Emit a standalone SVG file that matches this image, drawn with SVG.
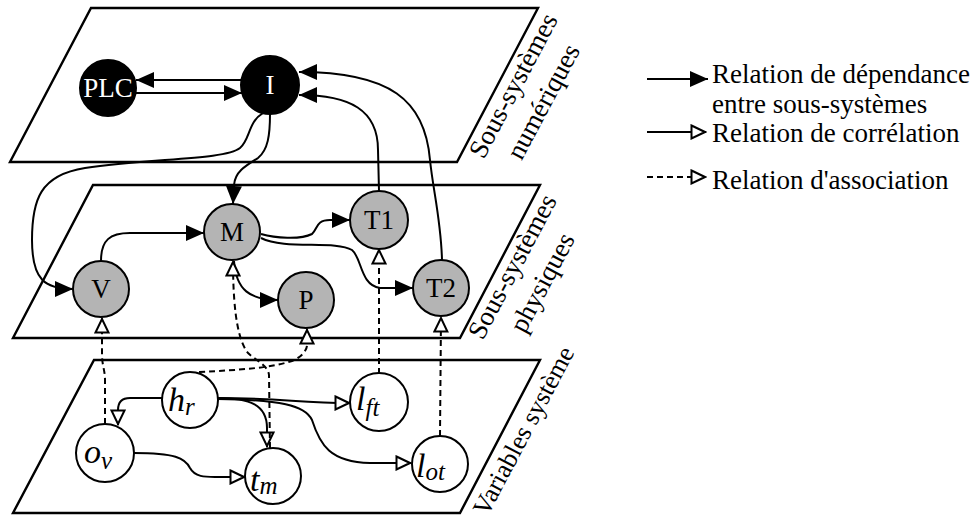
<svg xmlns="http://www.w3.org/2000/svg" width="979" height="523" viewBox="0 0 979 523">
<style>
.plane{fill:none;stroke:#000;stroke-width:2.4;stroke-linejoin:miter}
.dep{fill:none;stroke:#000;stroke-width:2;marker-end:url(#fh)}
.cor{fill:none;stroke:#000;stroke-width:2;marker-end:url(#hh)}
.asc{fill:none;stroke:#000;stroke-width:2;stroke-dasharray:6 4;marker-end:url(#hh)}
.dn{fill:#000;stroke:#000;stroke-width:2}
.pn{fill:#b4b4b4;stroke:#000;stroke-width:2}
.vn{fill:#fff;stroke:#000;stroke-width:2}
.lab{font-family:"Liberation Serif","Times New Roman",serif;font-size:27px;text-anchor:middle}
.wl{fill:#fff}
.math{font-family:"Liberation Serif","Times New Roman",serif;font-style:italic;font-size:34px}
.sub{font-size:25px}
.leg{font-family:"Liberation Serif","Times New Roman",serif;font-size:27px}
</style>
<defs>
<marker id="fh" viewBox="0 0 18 16" refX="18" refY="8" markerWidth="18" markerHeight="16" markerUnits="userSpaceOnUse" orient="auto">
<path d="M0,0 L18,8 L0,16 z" fill="#000"/>
</marker>
<marker id="hh" viewBox="0 0 17 16" refX="16" refY="8" markerWidth="17" markerHeight="16" markerUnits="userSpaceOnUse" orient="auto">
<path d="M1.5,1.5 L15,8 L1.5,14.5 z" fill="#fff" stroke="#000" stroke-width="2"/>
</marker>
</defs>
<rect width="979" height="523" fill="#fff"/>

<g id="planes">
<polygon class="plane" points="91,8 538,8 457,162 10,162"/>
<polygon class="plane" points="93,185 540,185 460,338 13,338"/>
<polygon class="plane" points="94,360 540,360 460,513 13,513"/>
<g class="lab" transform="translate(514,86) rotate(-62)">
<text x="0" y="8">Sous-systèmes</text>
<text x="0" y="42">numériques</text>
</g>
<g class="lab" transform="translate(513,267) rotate(-62)">
<text x="0" y="8">Sous-systèmes</text>
<text x="0" y="42">physiques</text>
</g>
<g class="lab" transform="translate(524,431) rotate(-62)" style="font-size:26px">
<text x="0" y="8">Variables système</text>
</g>
</g>

<g id="connectors">
<path class="dep" d="M242,80 L136,80"/>
<path class="dep" d="M136,93 L242,93"/>
<path class="dep" d="M263,113 C248,122 250,140 240,148 C225,160 150,158 85,168 C40,175 32,200 32,240 C32,280 45,289 73,289"/>
<path class="dep" d="M270,114 C270,135 268,150 258,158 C245,166 235,172 234,185 L233,204"/>
<path class="dep" d="M101,261 C101,240 110,233 130,233 L204,233"/>
<path class="dep" d="M261,234 C275,238 300,240 312,234 C318,228 316,220 330,220 L350,220"/>
<path class="dep" d="M261,238 C285,250 335,240 352,250 C362,258 360,285 380,288 L413,288"/>
<path class="dep" d="M234,261 C236,290 250,300 278,300"/>
<path class="dep" d="M379,191 L378,150 C378,110 350,95 299,95"/>
<path class="dep" d="M442,260 C441,220 433,190 430,160 C425,100 390,72 299,72"/>

<path class="cor" d="M162,398 L130,398 C122,398 118,402 118,410 L118,425"/>
<path class="cor" d="M218,398 C250,398 267,405 267,428 L267,447"/>
<path class="cor" d="M218,398 C280,398 300,403 350,403"/>
<path class="cor" d="M218,399 C280,400 305,405 312,420 C320,445 330,462 370,463 L411,463"/>
<path class="cor" d="M134,453 C175,453 185,458 190,468 C195,477 205,477 215,477 L245,477"/>

<path class="asc" d="M105,424 L105,380 C105,370 102,365 102,355 L102,318"/>
<path class="asc" d="M270,448 L269,375 C268,365 255,360 248,353 C240,343 233,320 233,261"/>
<path class="asc" d="M199,372 C240,370 270,368 292,361 C302,357 307,350 307,345 L307,329"/>
<path class="asc" d="M379,374 L379,249"/>
<path class="asc" d="M440,436 L441,317"/>
</g>

<g id="PLC"><circle class="dn" cx="108" cy="88" r="28"/><text class="lab wl" x="108" y="97">PLC</text></g>
<g id="I"><circle class="dn" cx="270" cy="85" r="29"/><text class="lab wl" x="270" y="94">I</text></g>

<g id="V"><circle class="pn" cx="101" cy="289" r="28"/><text class="lab" x="101" y="298">V</text></g>
<g id="M"><circle class="pn" cx="232" cy="232" r="28"/><text class="lab" x="232" y="241">M</text></g>
<g id="P"><circle class="pn" cx="306" cy="300" r="28"/><text class="lab" x="306" y="309">P</text></g>
<g id="T1"><circle class="pn" cx="379" cy="220" r="29"/><text class="lab" x="379" y="229">T1</text></g>
<g id="T2"><circle class="pn" cx="441" cy="288" r="28"/><text class="lab" x="441" y="297">T2</text></g>

<g id="hr"><circle class="vn" cx="190" cy="400" r="28"/><text class="math" x="168" y="411">h<tspan class="sub" dy="4">r</tspan></text></g>
<g id="ov"><circle class="vn" cx="105" cy="453" r="29"/><text class="math" x="84" y="463">o<tspan class="sub" dy="6">v</tspan></text></g>
<g id="tm"><circle class="vn" cx="273" cy="476" r="28"/><text class="math" x="250" y="491">t<tspan class="sub" dy="3">m</tspan></text></g>
<g id="lft"><circle class="vn" cx="379" cy="402" r="29"/><text class="math" x="356" y="410">l<tspan class="sub" dy="6">ft</tspan></text></g>
<g id="lot"><circle class="vn" cx="440" cy="464" r="28"/><text class="math" x="416" y="477">l<tspan class="sub" dy="3">ot</tspan></text></g>

<g id="legend">
<path class="dep" d="M647,79 L708,79"/>
<path class="cor" d="M647,132 L706,132"/>
<path class="asc" d="M647,177 L706,177"/>
<text class="leg" x="712" y="83">Relation de dépendance</text>
<text class="leg" x="712" y="113">entre sous-systèmes</text>
<text class="leg" x="712" y="142">Relation de corrélation</text>
<text class="leg" x="712" y="189">Relation d'association</text>
</g>
</svg>
